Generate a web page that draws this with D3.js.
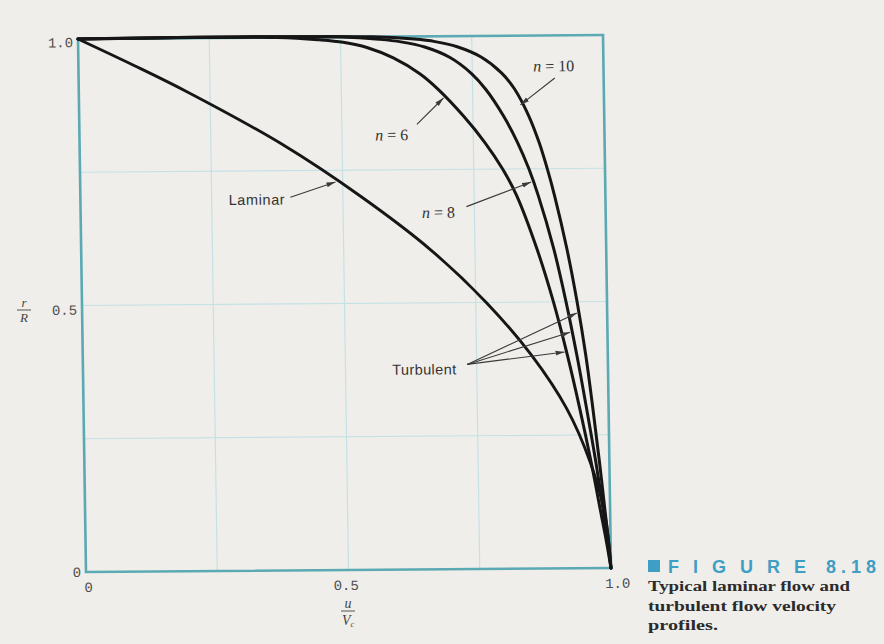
<!DOCTYPE html>
<html>
<head>
<meta charset="utf-8">
<script src="https://cdn.jsdelivr.net/npm/d3@7"></script>
<style>
  html, body { margin: 0; padding: 0; background: #f0eeeb; }
  svg { display: block; }
</style>
</head>
<body>
<svg id="chart" width="884" height="644"></svg>
<script>
// Velocity profiles: r/R (radial position) against u/Vc (velocity over centreline velocity)

// Turbulent profiles, sampled at these r/R positions
const turbR   = [1.0, 1.0, 0.995, 0.99, 0.98, 0.96, 0.93, 0.90, 0.85, 0.80, 0.75, 0.70, 0.60, 0.50, 0.40, 0.30, 0.20, 0.10, 0.05, 0.0];
const uTurb6  = [0, 0.38, 0.46, 0.505, 0.55, 0.60, 0.65, 0.685, 0.732, 0.772, 0.805, 0.831, 0.868, 0.898, 0.923, 0.945, 0.965, 0.983, 0.992, 1.0];
const uTurb8  = [0, 0.50, 0.575, 0.615, 0.66, 0.708, 0.748, 0.775, 0.808, 0.834, 0.855, 0.872, 0.90, 0.922, 0.941, 0.958, 0.974, 0.988, 0.994, 1.0];
const uTurb10 = [0, 0.56, 0.64, 0.68, 0.722, 0.768, 0.806, 0.83, 0.856, 0.875, 0.89, 0.903, 0.925, 0.943, 0.958, 0.97, 0.981, 0.991, 0.996, 1.0];

// Laminar profile
const lamR = [1.0, 0.95, 0.90, 0.80, 0.70, 0.60, 0.50, 0.40, 0.30, 0.20, 0.10, 0.0];
const uLam = [0, 0.105, 0.205, 0.385, 0.535, 0.665, 0.77, 0.855, 0.92, 0.963, 0.99, 1.0];

// Axis ticks and grid
const xTickValues = [0, 0.5, 1.0];
const xTickLabels = ["0", "0.5", "1.0"];
const yTickValues = [0, 0.5, 1.0];
const yTickLabels = ["0", "0.5", "1.0"];
const gridValues  = [0.25, 0.5, 0.75];

// Callouts: label text, the profile they point to and where
const calloutLabels = ["Laminar", "n = 6", "n = 8", "n = 10"];
const calloutSeries = ["lam", "n6", "n8", "n10"];
const calloutTipR   = [0.73, 0.886, 0.727, 0.872];
const calloutTail   = [[0.40, 0.70], [0.643, 0.835], [0.735, 0.68], [0.907, 0.92]];
const calloutText   = [[0.39, 0.696, "end"], [0.626, 0.816, "end"], [0.713, 0.67, "end"], [0.866, 0.943, "start"]];

const turbulentLabel = "Turbulent";
const turbulentText  = [0.589, 0.375];
const turbulentTail  = [0.732, 0.384];
const turbulentTips  = [["n10", 0.479], ["n8", 0.443], ["n6", 0.406]];

const captionHead  = "FIGURE";
const captionNum   = "8.18";
const captionLines = ["Typical laminar flow and", "turbulent flow velocity", "profiles."];

// ---------------------------------------------------------------
const W = 525, H = 533;
const svg = d3.select("#chart");

const x = d3.scaleLinear().domain([0, 1]).range([0, W]);
const y = d3.scaleLinear().domain([0, 1]).range([H, 0]);

const series = {
  lam: lamR.map((r, i) => ({ r, u: uLam[i] })),
  n6:  turbR.map((r, i) => ({ r, u: uTurb6[i] })),
  n8:  turbR.map((r, i) => ({ r, u: uTurb8[i] })),
  n10: turbR.map((r, i) => ({ r, u: uTurb10[i] }))
};

// u at a given r/R along a profile (piecewise linear lookup)
function uAt(key, r) {
  const pts = series[key].filter((d, i, a) => i === a.length - 1 || d.r !== a[i + 1].r);
  const s = d3.scaleLinear().domain(pts.map(d => d.r)).range(pts.map(d => d.u));
  return s(r);
}

const defs = svg.append("defs");
defs.append("marker")
  .attr("id", "arrow")
  .attr("viewBox", "0 0 9 6")
  .attr("refX", 9).attr("refY", 3)
  .attr("markerWidth", 9).attr("markerHeight", 6)
  .attr("markerUnits", "userSpaceOnUse")
  .attr("orient", "auto")
  .append("path")
  .attr("d", "M0,0.6 L9,3 L0,5.4 Z")
  .attr("fill", "#3a3a3a");

// plot frame (slightly sheared, as printed)
const plot = svg.append("g")
  .attr("transform", "matrix(1,-0.0076,0.015,1,78,39)");

// grid
plot.append("g").selectAll("line").data(gridValues).join("line")
  .attr("x1", d => x(d)).attr("x2", d => x(d))
  .attr("y1", 0).attr("y2", H)
  .attr("stroke", "#c4e1e5").attr("stroke-width", 1.2);
plot.append("g").selectAll("line").data(gridValues).join("line")
  .attr("y1", d => y(d)).attr("y2", d => y(d))
  .attr("x1", 0).attr("x2", W)
  .attr("stroke", "#c4e1e5").attr("stroke-width", 1.2);

// border
plot.append("rect")
  .attr("x", 0).attr("y", 0).attr("width", W).attr("height", H)
  .attr("fill", "none").attr("stroke", "#5aa9b3").attr("stroke-width", 2.6);

// axes (labels only)
const xAxis = d3.axisBottom(x).tickValues(xTickValues)
  .tickFormat((d, i) => xTickLabels[i]).tickSize(0).tickPadding(10);
const gx = plot.append("g").attr("transform", `translate(0,${H})`).call(xAxis);
gx.select(".domain").remove();
gx.selectAll("text")
  .attr("font-family", "Liberation Mono, DejaVu Sans Mono, monospace")
  .attr("font-size", 14).attr("fill", "#4d4d4d")
  .attr("dx", (d, i) => [2, -3, 6][i]);

const yAxis = d3.axisLeft(y).tickValues(yTickValues)
  .tickFormat((d, i) => yTickLabels[i]).tickSize(0).tickPadding(5);
const gy = plot.append("g").call(yAxis);
gy.select(".domain").remove();
gy.selectAll("text")
  .attr("font-family", "Liberation Mono, DejaVu Sans Mono, monospace")
  .attr("font-size", 14).attr("fill", "#4d4d4d")
  .attr("dy", (d, i) => ["0.32em", "0.62em", "0.55em"][i]);

// profiles
const line = d3.line()
  .x(d => x(d.u)).y(d => y(d.r))
  .curve(d3.curveCatmullRom.alpha(0.5));

Object.entries(series).forEach(([key, pts]) => {
  plot.append("path")
    .datum(pts)
    .attr("d", line)
    .attr("fill", "none")
    .attr("stroke", "#161616")
    .attr("stroke-width", key === "lam" ? 2.9 : 3)
    .attr("stroke-linecap", "round")
    .attr("stroke-linejoin", "round");
});

// callouts
const notes = plot.append("g");
calloutLabels.forEach((label, i) => {
  const key = calloutSeries[i];
  const tipR = calloutTipR[i];
  const [tu, tr] = calloutTail[i];
  notes.append("line")
    .attr("x1", x(tu)).attr("y1", y(tr))
    .attr("x2", x(uAt(key, tipR)) - 2).attr("y2", y(tipR) + 1)
    .attr("stroke", "#3a3a3a").attr("stroke-width", 1.1)
    .attr("marker-end", "url(#arrow)");
  const [lu, lr, anchor] = calloutText[i];
  const t = notes.append("text")
    .attr("x", x(lu)).attr("y", y(lr)).attr("dy", "0.35em")
    .attr("text-anchor", anchor)
    .attr("fill", "#333");
  if (key === "lam") {
    t.attr("font-family", "Liberation Sans, Arial, sans-serif").attr("font-size", 14.5)
      .attr("letter-spacing", 0.6).text(label);
  } else {
    const parts = label.split(" ");
    t.attr("font-family", "Liberation Serif, Times New Roman, serif").attr("font-size", 16);
    t.append("tspan").attr("font-style", "italic").text(parts[0]);
    t.append("tspan").text(" " + parts.slice(1).join(" "));
  }
});

turbulentTips.forEach(([key, r]) => {
  notes.append("line")
    .attr("x1", x(turbulentTail[0])).attr("y1", y(turbulentTail[1]))
    .attr("x2", x(uAt(key, r)) - 2).attr("y2", y(r))
    .attr("stroke", "#3a3a3a").attr("stroke-width", 1.1)
    .attr("marker-end", "url(#arrow)");
});
notes.append("text")
  .attr("x", x(turbulentText[0])).attr("y", y(turbulentText[1])).attr("dy", "0.35em")
  .attr("font-family", "Liberation Sans, Arial, sans-serif").attr("font-size", 14.5)
  .attr("letter-spacing", 0.4)
  .attr("fill", "#333").text(turbulentLabel);

// axis titles: r/R and u/Vc as stacked fractions
const serif = "Liberation Serif, Times New Roman, serif";
const yTitle = svg.append("g").attr("transform", "translate(24,310)");
yTitle.append("text").attr("y", -3).attr("text-anchor", "middle")
  .attr("font-family", serif).attr("font-style", "italic").attr("font-size", 13).attr("fill", "#444").text("r");
yTitle.append("line").attr("x1", -7).attr("x2", 7).attr("y1", 0).attr("y2", 0)
  .attr("stroke", "#555").attr("stroke-width", 1);
yTitle.append("text").attr("y", 12).attr("text-anchor", "middle")
  .attr("font-family", serif).attr("font-style", "italic").attr("font-size", 13).attr("fill", "#444").text("R");

const xTitle = svg.append("g").attr("transform", "translate(348,611)");
xTitle.append("text").attr("y", -3).attr("text-anchor", "middle")
  .attr("font-family", serif).attr("font-style", "italic").attr("font-size", 14).attr("fill", "#444").text("u");
xTitle.append("line").attr("x1", -7).attr("x2", 7).attr("y1", 0).attr("y2", 0)
  .attr("stroke", "#555").attr("stroke-width", 1);
const vt = xTitle.append("text").attr("y", 14).attr("text-anchor", "middle")
  .attr("font-family", serif).attr("font-style", "italic").attr("font-size", 14).attr("fill", "#444");
vt.append("tspan").text("V");
vt.append("tspan").attr("font-size", 8).attr("dy", 2).text("c");

// figure caption
const cap = svg.append("g").attr("transform", "translate(648,0)");
cap.append("rect").attr("x", 0).attr("y", 560).attr("width", 12).attr("height", 12).attr("fill", "#3f9ec4");
const head = cap.append("text").attr("x", 20).attr("y", 573)
  .attr("font-family", "Liberation Sans, Arial, sans-serif").attr("font-weight", "bold")
  .attr("font-size", 18).attr("fill", "#3f9ec4");
head.append("tspan").attr("letter-spacing", 14).text(captionHead);
head.append("tspan").attr("dx", 6).attr("letter-spacing", 5).text(captionNum);

const capWidths = [202, 188, 70];
captionLines.forEach((s, i) => {
  cap.append("text")
    .attr("x", 0).attr("y", 591 + i * 19.5)
    .attr("font-family", serif).attr("font-weight", "bold")
    .attr("font-size", 15).attr("fill", "#2b2b2b")
    .attr("textLength", capWidths[i]).attr("lengthAdjust", "spacingAndGlyphs")
    .text(s);
});
</script>
</body>
</html>
